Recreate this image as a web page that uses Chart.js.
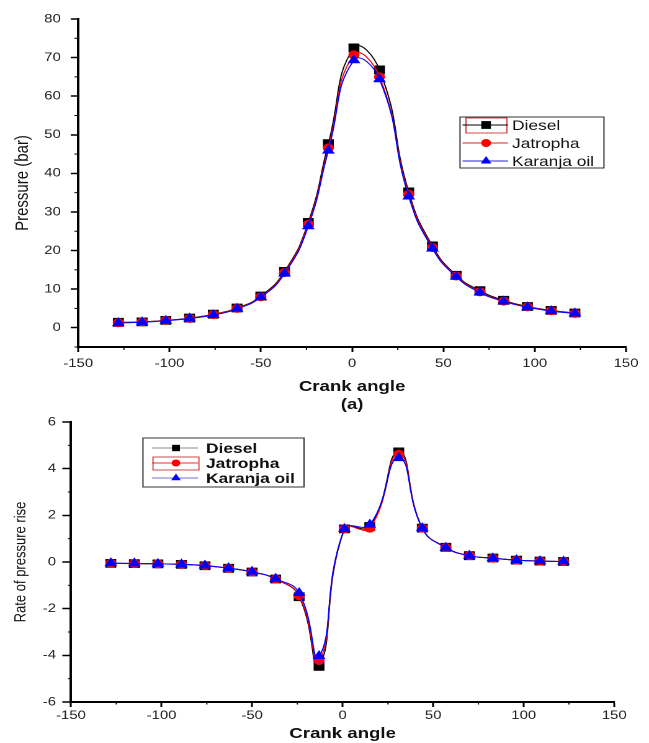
<!DOCTYPE html>
<html>
<head>
<meta charset="utf-8">
<script src="https://cdn.jsdelivr.net/npm/chart.js@4.4.1/dist/chart.umd.min.js"></script>
<style>
  html, body { margin: 0; padding: 0; background: #fff; }
  body { width: 649px; height: 743px; overflow: hidden; position: relative; }
  /* the source figure is stretched horizontally, so draw narrow and stretch */
  .wrap { position: absolute; left: 0; width: 523px; transform-origin: 0 0; transform: scaleX(1.2409); }
</style>
</head>
<body>
<div class="wrap" style="top:0;height:415px"><canvas id="pressureChart" width="523" height="415"></canvas></div>
<div class="wrap" style="top:400px;height:343px"><canvas id="rateChart" width="523" height="343"></canvas></div>
<script>
/* Crank angle vs cylinder pressure / rate of pressure rise */
const crankAngle = [-128, -115, -102, -89, -76, -63, -50, -37, -24, -13, 1, 15, 31, 44, 57, 70, 83, 96, 109, 122];
const fuelNames  = ['Diesel', 'Jatropha', 'Karanja oil'];

const pressureDiesel   = [1.4, 1.5, 1.9, 2.5, 3.5, 5.1, 8.2, 14.6, 27.3, 47.7, 72.5, 66.8, 35.2, 21.2, 13.6, 9.6, 7.1, 5.5, 4.5, 3.8];
const pressureJatropha = [1.3, 1.5, 1.9, 2.4, 3.4, 5.0, 8.0, 14.3, 26.8, 46.6, 70.7, 65.0, 34.6, 20.8, 13.4, 9.3, 6.9, 5.4, 4.4, 3.7];
const pressureKaranja  = [1.2, 1.4, 1.8, 2.4, 3.3, 4.9, 7.9, 14.0, 26.3, 45.9, 69.3, 64.4, 34.0, 20.5, 13.2, 9.1, 6.8, 5.3, 4.3, 3.7];

const rateDiesel   = [-0.06, -0.07, -0.08, -0.10, -0.16, -0.27, -0.43, -0.73, -1.49, -4.47, 1.42, 1.52, 4.72, 1.45, 0.63, 0.27, 0.17, 0.08, 0.04, 0.02];
const rateJatropha = [-0.06, -0.07, -0.08, -0.10, -0.16, -0.27, -0.43, -0.73, -1.45, -4.22, 1.42, 1.45, 4.62, 1.45, 0.62, 0.27, 0.16, 0.08, 0.04, 0.02];
const rateKaranja  = [-0.05, -0.06, -0.08, -0.10, -0.15, -0.26, -0.42, -0.72, -1.33, -4.03, 1.42, 1.60, 4.45, 1.45, 0.61, 0.27, 0.16, 0.08, 0.04, 0.02];

Chart.defaults.font.family = '"Liberation Sans", Arial, sans-serif';
Chart.defaults.color = '#222';

const toPoints = ys => crankAngle.map((x, i) => ({ x, y: ys[i] }));

function series(label, ys, color, shape, radius, order) {
  return {
    label,
    data: toPoints(ys),
    borderColor: color,
    backgroundColor: color,
    pointBackgroundColor: color,
    pointBorderColor: color,
    pointStyle: shape,
    pointRadius: radius,
    borderWidth: 1,
    tension: 0.5,
    fill: false,
    order,
  };
}

// short unlabelled ticks half way between the labelled ones
const minorTicks = {
  id: 'minorTicks',
  afterDraw(chart, args, opts) {
    const ctx = chart.ctx;
    ctx.save();
    ctx.strokeStyle = '#000';
    ctx.lineWidth = 1;
    ['x', 'y'].forEach(id => {
      const s = chart.scales[id];
      const vals = s.ticks.map(t => t.value);
      const step = vals[1] - vals[0];
      for (let v = vals[0] - step / 2; v <= s.max; v += step) {
        if (v < s.min) continue;
        const p = s.getPixelForValue(v);
        ctx.beginPath();
        if (id === 'x') { ctx.moveTo(p, s.top); ctx.lineTo(p, s.top + opts.length); }
        else { ctx.moveTo(s.right, p); ctx.lineTo(s.right - opts.length, p); }
        ctx.stroke();
      }
    });
    ctx.restore();
  }
};

function drawMarker(ctx, shape, r, x, y) {
  ctx.beginPath();
  if (shape === 'rect') {
    const h = r * Math.SQRT1_2;
    ctx.rect(x - h, y - h, 2 * h, 2 * h);
  } else if (shape === 'triangle') {
    ctx.moveTo(x, y - r);
    ctx.lineTo(x + r * 0.866, y + r * 0.5);
    ctx.lineTo(x - r * 0.866, y + r * 0.5);
    ctx.closePath();
  } else {
    ctx.arc(x, y, r, 0, Math.PI * 2);
  }
  ctx.fill();
}

// boxed legend placed inside the plot, like the Origin original
const boxLegend = {
  id: 'boxLegend',
  afterDraw(chart, args, o) {
    const ctx = chart.ctx;
    ctx.save();
    ctx.lineWidth = 1;
    ctx.strokeStyle = '#333';
    ctx.strokeRect(o.box[0], o.box[1], o.box[2], o.box[3]);
    ctx.strokeStyle = '#d04848';
    ctx.strokeRect(o.frame[0], o.frame[1], o.frame[2], o.frame[3]);
    ctx.font = o.font;
    ctx.textBaseline = 'middle';
    chart.data.datasets.forEach((ds, i) => {
      const y = o.rowY[i];
      ctx.strokeStyle = o.lineColors[i];
      ctx.beginPath();
      ctx.moveTo(o.lineX[0], y);
      ctx.lineTo(o.lineX[1], y);
      ctx.stroke();
      ctx.fillStyle = ds.pointBackgroundColor;
      drawMarker(ctx, ds.pointStyle, o.markerR[i], o.markerX, y);
      ctx.fillStyle = '#111';
      ctx.fillText(ds.label, o.textX, y + 1);
    });
    ctx.restore();
  }
};

function axisX(opts) {
  return {
    type: 'linear', min: -150, max: 150,
    ticks: { stepSize: 50, font: { size: 12 }, padding: opts.pad, maxRotation: 0, color: '#222' },
    grid: { drawOnChartArea: false, tickLength: 5, tickColor: '#000', tickWidth: 1.5 },
    border: { color: '#000', width: 2 },
    title: opts.title,
    afterFit: s => { s.height = opts.height; }
  };
}

function axisY(opts) {
  return {
    type: 'linear', min: opts.min, max: opts.max,
    ticks: { stepSize: opts.step, includeBounds: false, font: { size: 12 }, padding: opts.pad, color: '#222' },
    grid: { drawOnChartArea: false, tickLength: opts.tick, tickColor: '#000', tickWidth: 1.5 },
    border: { color: '#000', width: 2 },
    title: opts.title,
    afterFit: s => { s.width = opts.width; }
  };
}

const common = {
  responsive: false,
  animation: false,
  devicePixelRatio: 2,
  events: [],
};

new Chart(document.getElementById('pressureChart'), {
  type: 'line',
  data: {
    datasets: [
      series(fuelNames[0], pressureDiesel, '#000000', 'rect', 5.5, 3),
      series(fuelNames[1], pressureJatropha, '#ff0000', 'circle', 4, 2),
      series(fuelNames[2], pressureKaranja, '#0000ff', 'triangle', 5, 1),
    ]
  },
  options: {
    ...common,
    layout: { padding: { left: 0, right: 18.5, top: 19, bottom: 0 } },
    plugins: {
      legend: { display: false },
      tooltip: { enabled: false },
      minorTicks: { length: 3 },
      boxLegend: {
        box: [370.7, 117, 116, 51],
        frame: [375.5, 118, 33, 15],
        rowY: [125, 143, 161],
        lineX: [372.7, 409.4],
        markerX: 391.7,
        markerR: [5.5, 4, 5],
        textX: 412.6,
        font: '14px "Liberation Sans", Arial, sans-serif',
        lineColors: ['#000000', '#e02020', '#2020d0'],
      }
    },
    scales: {
      x: axisX({
        pad: 4.5, height: 68,
        title: { display: true, text: ['Crank angle', '(a)'], color: '#111',
                 font: { size: 15, weight: 'bold' }, padding: { top: 4, bottom: 1 } }
      }),
      y: axisY({
        min: -5, max: 80, step: 10, pad: 8, tick: 6, width: 63,
        title: { display: true, text: 'Pressure (bar)', color: '#111',
                 font: { size: 15 }, padding: { top: 9.5, bottom: 0 } }
      })
    }
  },
  plugins: [minorTicks, boxLegend]
});

new Chart(document.getElementById('rateChart'), {
  type: 'line',
  data: {
    datasets: [
      series(fuelNames[0], rateDiesel, '#000000', 'rect', 5.5, 3),
      series(fuelNames[1], rateJatropha, '#ff0000', 'circle', 4, 2),
      series(fuelNames[2], rateKaranja, '#0000ff', 'triangle', 5, 1),
    ]
  },
  options: {
    ...common,
    layout: { padding: { left: 0, right: 28, top: 22, bottom: 0 } },
    plugins: {
      legend: { display: false },
      tooltip: { enabled: false },
      minorTicks: { length: 2.5 },
      boxLegend: {
        box: [115.2, 38, 129.8, 49],
        frame: [123.3, 57, 37, 13],
        rowY: [48, 63, 78],
        lineX: [122.5, 159.6],
        markerX: 141.8,
        markerR: [4.5, 3.5, 4.5],
        textX: 166,
        font: 'bold 14px "Liberation Sans", Arial, sans-serif',
        lineColors: ['#888888', '#e03030', '#7070e0'],
      }
    },
    scales: {
      x: axisX({
        pad: 1.5, height: 41,
        title: { display: true, text: 'Crank angle', color: '#111',
                 font: { size: 15, weight: 'bold' }, padding: { top: 2, bottom: 0 } }
      }),
      y: axisY({
        min: -6, max: 6, step: 2, pad: 5, tick: 7, width: 57.2,
        title: { display: true, text: 'Rate of pressure rise', color: '#111',
                 font: { size: 13 }, padding: { top: 9, bottom: 0 } }
      })
    }
  },
  plugins: [minorTicks, boxLegend]
});
</script>
</body>
</html>
